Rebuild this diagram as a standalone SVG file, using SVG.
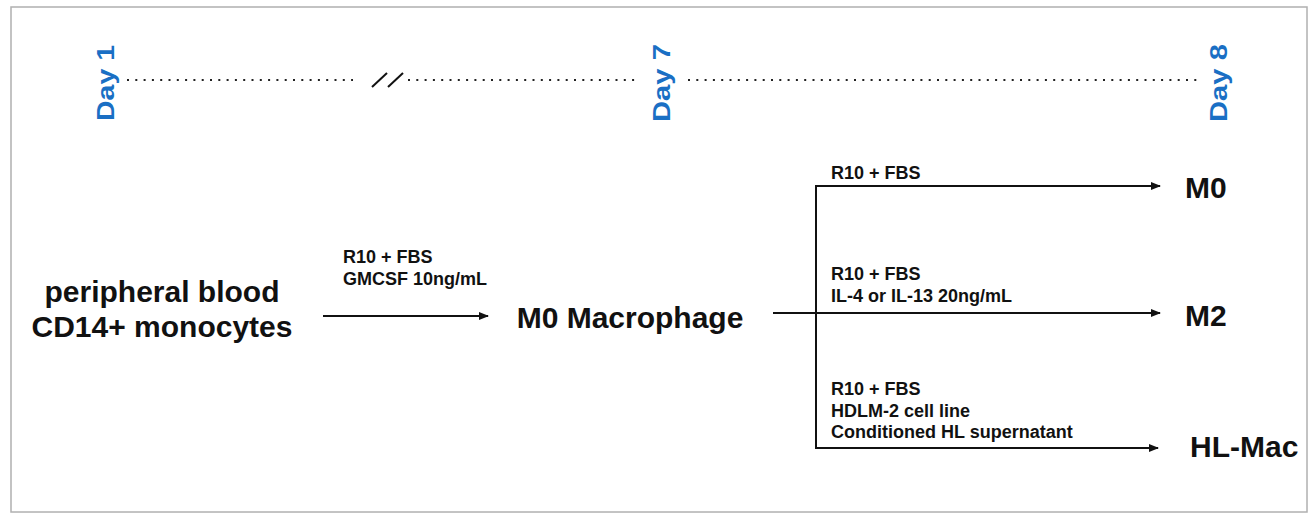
<svg xmlns="http://www.w3.org/2000/svg" width="1311" height="514" viewBox="0 0 1311 514">
<style>
.day{font-family:"Liberation Sans",Arial,sans-serif;font-weight:bold;font-size:23px;fill:#1A6FC4}
.big{font-family:"Liberation Sans",Arial,sans-serif;font-weight:bold;font-size:30px;fill:#111}
.lbl{font-family:"Liberation Sans",Arial,sans-serif;font-weight:bold;font-size:18px;fill:#111}
.dots{stroke:#222;stroke-width:2;stroke-dasharray:2 6.3;fill:none}
.ln{stroke:#111;stroke-width:2;fill:none}
</style>
<defs>
<marker id="ah" markerUnits="userSpaceOnUse" markerWidth="10" markerHeight="8" refX="9" refY="4" orient="auto">
<path d="M0,0 L10,4 L0,8 z" fill="#111"/>
</marker>
</defs>
<rect x="11" y="7" width="1296" height="505" fill="#fff" stroke="#b0b0b0" stroke-width="1.5"/>
<g id="timeline">
<text class="day" transform="translate(114,83) rotate(-90)" text-anchor="middle" textLength="76" lengthAdjust="spacingAndGlyphs">Day 1</text>
<text class="day" transform="translate(670,83) rotate(-90)" text-anchor="middle" textLength="78" lengthAdjust="spacingAndGlyphs">Day 7</text>
<text class="day" transform="translate(1227,83) rotate(-90)" text-anchor="middle" textLength="78" lengthAdjust="spacingAndGlyphs">Day 8</text>
<line class="dots" x1="127" y1="80" x2="353" y2="80"/>
<line class="ln" x1="372" y1="87" x2="387" y2="73" stroke-width="1.8"/>
<line class="ln" x1="388" y1="87" x2="403" y2="73" stroke-width="1.8"/>
<line class="dots" x1="408" y1="80" x2="636" y2="80"/>
<line class="dots" x1="688" y1="80" x2="1202" y2="80"/>
</g>
<g id="node-monocytes">
<text class="big" x="162" y="302" text-anchor="middle">peripheral blood</text>
<text class="big" x="162" y="337" text-anchor="middle">CD14+ monocytes</text>
</g>
<g id="node-m0mac">
<text class="big" x="630" y="328" text-anchor="middle">M0 Macrophage</text>
</g>
<g id="node-m0">
<text class="big" x="1185" y="198">M0</text>
</g>
<g id="node-m2">
<text class="big" x="1185" y="326">M2</text>
</g>
<g id="node-hlmac">
<text class="big" x="1190" y="457">HL-Mac</text>
</g>
<g id="connectors">
<line class="ln" x1="323" y1="316" x2="488" y2="316" marker-end="url(#ah)"/>
<line class="ln" x1="773" y1="313" x2="816" y2="313"/>
<line class="ln" x1="816" y1="185" x2="816" y2="449"/>
<line class="ln" x1="815" y1="186" x2="1160" y2="186" marker-end="url(#ah)"/>
<line class="ln" x1="816" y1="313" x2="1160" y2="313" marker-end="url(#ah)"/>
<line class="ln" x1="815" y1="448" x2="1158" y2="448" marker-end="url(#ah)"/>
</g>
<g id="labels">
<text class="lbl" x="343" y="263">R10 + FBS</text>
<text class="lbl" x="343" y="285">GMCSF 10ng/mL</text>
<text class="lbl" x="831" y="179">R10 + FBS</text>
<text class="lbl" x="831" y="280">R10 + FBS</text>
<text class="lbl" x="831" y="302">IL-4 or IL-13 20ng/mL</text>
<text class="lbl" x="831" y="395">R10 + FBS</text>
<text class="lbl" x="831" y="417">HDLM-2 cell line</text>
<text class="lbl" x="831" y="438">Conditioned HL supernatant</text>
</g>
</svg>
